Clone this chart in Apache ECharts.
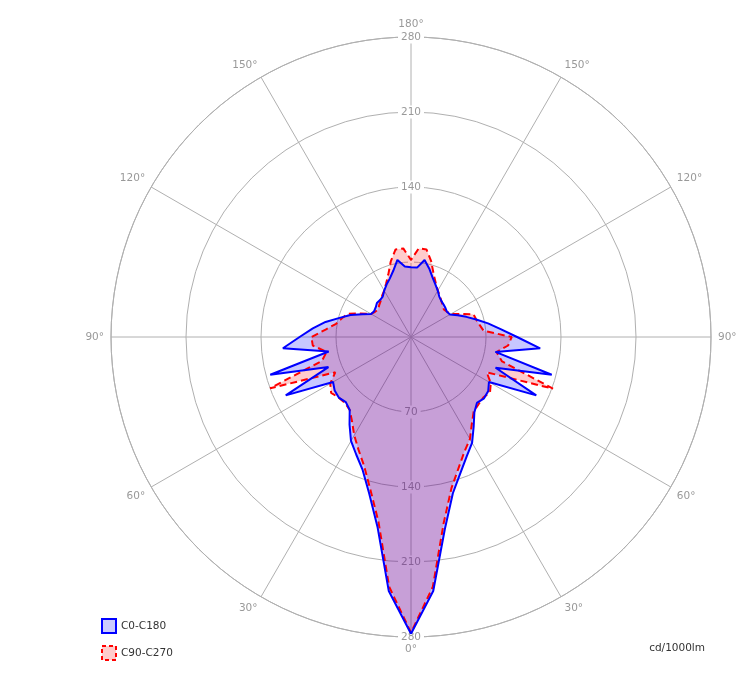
<!DOCTYPE html>
<html>
<head>
<meta charset="utf-8">
<title>Luminous intensity</title>
<script src="https://cdn.jsdelivr.net/npm/echarts@6/dist/echarts.min.js"></script>
<style>
html, body { margin: 0; padding: 0; background: #fff; }
#lightChart { width: 756px; height: 688px; }
</style>
</head>
<body>
<div id="lightChart"></div>
<script>
// gamma: 0 = straight down, 180 = straight up
const gammaAngles = [0, 5, 10, 15, 20, 25, 30, 35, 40, 45, 50, 55, 60, 65, 70, 75, 80, 85, 90,
  95, 100, 105, 110, 115, 120, 125, 130, 135, 140, 145, 150, 155, 160, 165, 170, 175, 180];

// C0 (right half) / C180 (left half)
const c0Values = [277, 238, 182, 151, 135, 123, 114, 102, 92, 87, 89, 88, 84, 129, 84, 136, 80, 121, 99,
  84, 73, 63, 55, 48, 42, 41, 42, 43, 44, 46, 50, 54, 59, 66, 73, 65, 65];
const c180Values = [277, 238, 180, 151, 132, 121, 112, 100, 89, 86, 88, 87, 84, 129, 82, 136, 78, 120, 104,
  92, 81, 69, 60, 50, 43, 42, 43, 45, 45, 46, 50, 54, 58, 64, 73, 66, 65];

// C90 (right half) / C270 (left half)
const c90Values = [276, 234, 176, 146, 130, 118, 110, 99, 91, 89, 88, 90, 86, 78, 141, 88, 81, 91, 94,
  68, 65, 63, 62, 51, 43, 41, 40, 42, 44, 47, 50, 55, 62, 73, 83, 83, 72];
const c270Values = [276, 234, 175, 147, 128, 116, 106, 96, 89, 87, 88, 91, 87, 78, 140, 86, 80, 92, 93,
  80, 71, 67, 63, 52, 43, 41, 40, 42, 44, 47, 50, 55, 62, 73, 83, 83, 72];

const radiusMax = 280;
const radiusStep = 70;
const angleStep = 30;
const seriesNames = ['C0-C180', 'C90-C270'];

const fontName = 'DejaVu Sans';
const gridColor = '#b0b0b0';

// left half runs 0..180 clockwise from the bottom, right half comes back 180..360
function buildLoop(leftVals, rightVals) {
  let pts = [];
  gammaAngles.forEach((g, i) => {
    pts.push([leftVals[i], g]);
  });
  for (let i = gammaAngles.length - 1; i >= 0; i--) {
    pts.push([rightVals[i], 360 - gammaAngles[i]]);
  }
  return pts;
}

function labelAxis(polarIndex, hideFirst) {
  return {
    polarIndex: polarIndex,
    type: 'value',
    min: 0,
    max: radiusMax,
    interval: radiusStep,
    z: 1,
    axisLine: { show: false },
    axisTick: { show: false },
    splitLine: { show: false },
    axisLabel: {
      showMinLabel: false,
      margin: 0,
      align: 'center',
      verticalAlign: 'middle',
      color: '#999',
      fontSize: 10.5,
      fontFamily: fontName,
      backgroundColor: '#fff',
      padding: [1, 3],
      formatter: function (v) {
        // the 70 on the upper side sits under the curves
        if (hideFirst && v === radiusStep) return '';
        return v;
      },
    },
  };
}

function hiddenAngle(polarIndex, start) {
  return {
    polarIndex: polarIndex,
    type: 'value',
    min: 0,
    max: 360,
    startAngle: start,
    axisLine: { show: false },
    axisTick: { show: false },
    axisLabel: { show: false },
    splitLine: { show: false },
  };
}

let chartDom = document.getElementById('lightChart');
let myChart = echarts.init(chartDom);
var option;
option = {
  backgroundColor: '#fff',
  animation: false,
  polar: [
    { center: [411, 337], radius: 300 },
    { center: [411, 337], radius: 300 },
    { center: [411, 337], radius: 300 },
  ],
  angleAxis: [
    {
      polarIndex: 0,
      type: 'value',
      min: 0,
      max: 360,
      interval: angleStep,
      startAngle: -90,
      clockwise: true,
      axisLine: { show: true, lineStyle: { color: gridColor, width: 1 } },
      axisTick: { show: false },
      axisLabel: {
        margin: 7,
        color: '#999',
        fontSize: 10.5,
        fontFamily: fontName,
        formatter: function (v) {
          let a = v <= 180 ? v : 360 - v;
          return a + '°';
        },
      },
      splitLine: { show: true, lineStyle: { color: gridColor, width: 1 } },
    },
    hiddenAngle(1, -90),
    hiddenAngle(2, 90),
  ],
  radiusAxis: [
    {
      polarIndex: 0,
      type: 'value',
      min: 0,
      max: radiusMax,
      interval: radiusStep,
      axisLine: { show: false },
      axisTick: { show: false },
      axisLabel: { show: false },
      splitLine: { show: true, lineStyle: { color: gridColor, width: 1 } },
    },
    labelAxis(1, false),
    labelAxis(2, true),
  ],
  legend: {
    orient: 'vertical',
    left: 96,
    top: 613,
    icon: 'rect',
    itemWidth: 14,
    itemHeight: 14,
    itemGap: 11,
    itemTextGap: 7,
    textStyle: { color: '#333', fontSize: 10.5, fontFamily: fontName },
    data: [
      {
        name: seriesNames[0],
        itemStyle: { color: 'rgba(0,0,255,0.2)', borderColor: '#0000ff', borderWidth: 2 },
      },
      {
        name: seriesNames[1],
        itemStyle: { color: 'rgba(255,0,0,0.2)', borderColor: '#ff0000', borderWidth: 2, borderType: [4, 3] },
      },
    ],
  },
  title: {
    text: 'cd/1000lm',
    right: 46,
    top: 638,
    textStyle: { color: '#333', fontSize: 10.5, fontWeight: 'normal', fontFamily: fontName },
  },
  series: [
    {
      name: seriesNames[1],
      type: 'line',
      coordinateSystem: 'polar',
      polarIndex: 0,
      symbol: 'none',
      data: buildLoop(c270Values, c90Values),
      lineStyle: { color: '#ff0000', width: 2, type: [7, 4] },
      itemStyle: { color: '#ff0000' },
      areaStyle: { color: 'rgba(255,0,0,0.2)', opacity: 1 },
    },
    {
      name: seriesNames[0],
      type: 'line',
      coordinateSystem: 'polar',
      polarIndex: 0,
      symbol: 'none',
      data: buildLoop(c180Values, c0Values),
      lineStyle: { color: '#0000ff', width: 2 },
      itemStyle: { color: '#0000ff' },
      areaStyle: { color: 'rgba(0,0,255,0.22)', opacity: 1 },
    },
  ],
};

option && myChart.setOption(option);
</script>
</body>
</html>
